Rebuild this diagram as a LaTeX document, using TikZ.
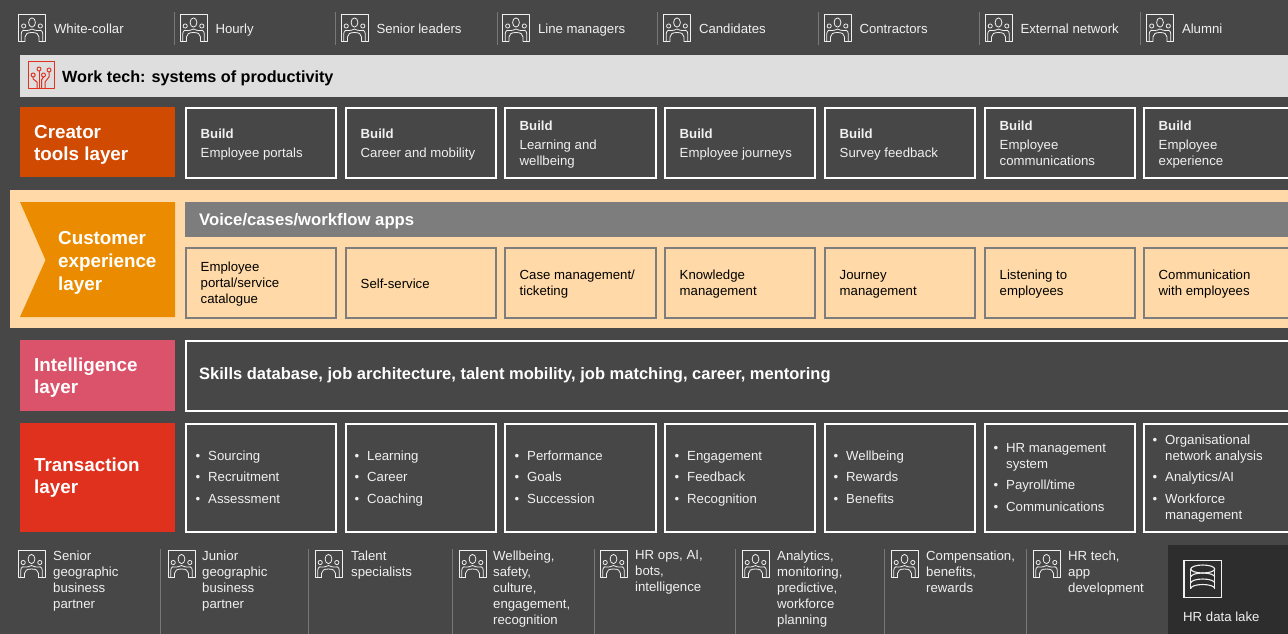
\documentclass[tikz,border=0pt]{standalone}
\usepackage{fontspec}
\setmainfont{Liberation Sans}
\definecolor{bgc}{HTML}{474747}
\definecolor{barg}{HTML}{DEDEDE}
\definecolor{creator}{HTML}{D04A02}
\definecolor{cream}{HTML}{FFDAA8}
\definecolor{amber}{HTML}{EB8C00}
\definecolor{voice}{HTML}{7D7D7D}
\definecolor{intel}{HTML}{DB536A}
\definecolor{trans}{HTML}{E0301E}
\definecolor{lake}{HTML}{2D2D2D}
\definecolor{sepc}{HTML}{787878}
\definecolor{txt}{HTML}{F0F0F0}
\tikzset{
  x=1pt,y=-1pt,
  struts/.style={execute at begin node=\strut,execute at end node=\strut},
  lbl/.style={struts,anchor=west,inner sep=0pt,align=left,text=txt,font=\fontsize{13.2}{16}\selectfont},
  darklbl/.style={lbl,text=black},
  layerlbl/.style={struts,anchor=west,inner sep=0pt,align=left,text=white,font=\fontsize{18.8}{22}\bfseries\selectfont},
  barlbl/.style={struts,anchor=west,inner sep=0pt,text=white,font=\fontsize{#1}{18}\bfseries\selectfont},
  itemlbl/.style={struts,anchor=north west,inner sep=0pt,align=left,text=txt,font=\fontsize{13.2}{16}\selectfont},
  layerbox/.style={anchor=north west,inner sep=0pt,outer sep=0pt,draw=none},
  cell/.style={anchor=north west,inner sep=0pt,outer sep=0pt,draw=white,line width=1.05pt,fill=bgc},
  creamcell/.style={anchor=north west,inner sep=0pt,outer sep=0pt,draw=voice,line width=1.05pt,fill=cream},
  sepline/.style={draw=sepc,line width=1pt},
  iconline/.style={draw=#1,line width=.8pt,line join=round,line cap=round},
}
% people icon, 27 px square
\newcommand{\peopleicon}[2]{%
  \begin{scope}[shift={(#1,#2)},iconline=txt]
    \draw (6.5,27) -- (0,27) -- (0,0) -- (27,0) -- (27,27) -- (20.5,27);
    \draw (13.5,8.5) ellipse (3.4 and 4.6);
    \draw (5.2,12) circle (2.1);
    \draw (21.8,12) circle (2.1);
    \draw (2.7,27) -- (2.7,20) .. controls (2.7,16) and (6,15.5) .. (8.5,16.5) .. controls (10,17.5) and (11,15) .. (13.5,15) .. controls (16,15) and (17,17.5) .. (18.5,16.5) .. controls (21,15.5) and (24.3,16) .. (24.3,20) -- (24.3,27);
    \draw (6.5,27) -- (6.5,23) .. controls (6.5,20) and (9,18.5) .. (13.5,18.5) .. controls (18,18.5) and (20.5,20) .. (20.5,23) -- (20.5,27);
  \end{scope}}
\newcommand{\topitem}[3]{\peopleicon{#1}{14}\node[lbl] (#3) at ({#1+35.3},30.5) {#2};}
\newcommand{\botitem}[4]{\peopleicon{#1}{550.5}\node[itemlbl] (#3) at (#2,550.3) {#4};}
\newcommand{\vsep}[3]{\draw[sepline] (#1,#2) -- (#1,#3);}
\newcommand{\buildcell}[4]{\node[cell,minimum width=#2,minimum height=70] (#3) at (#1,108) {};
  \node[lbl] (#3t) at ({#1+14.5},145.5) {\textbf{Build}\\[3pt]#4};}
\newcommand{\creamitem}[4]{\node[creamcell,minimum width=#2,minimum height=70] (#3) at (#1,248) {};
  \node[darklbl] (#3t) at ({#1+14.5},285.5) {#4};}
\newcommand{\transcell}[3]{\node[cell,minimum width=#2,minimum height=108] (#3) at (#1,424) {};}
\newcommand{\bitem}[4]{\node[itemlbl] (#4) at (#1,{#2-6}) {\llap{•\hspace{8pt}}#3};}
\begin{document}
\begin{tikzpicture}
\useasboundingbox (0,0) rectangle (1288,634);
\clip (0,0) rectangle (1288,634);
\fill[bgc] (0,0) rectangle (1288,634);
% top row
\topitem{18.5}{White-collar}{a1}
\topitem{180}{Hourly}{a2}
\topitem{341}{Senior leaders}{a3}
\topitem{502.5}{Line managers}{a4}
\topitem{663.5}{Candidates}{a5}
\topitem{824}{Contractors}{a6}
\topitem{985}{External network}{a7}
\topitem{1146.5}{Alumni}{a8}
\foreach \x in {174,335,497,657,818,979,1140} {\vsep{\x}{12}{45}}
% work tech bar
\node[layerbox,fill=barg,minimum width=1280,minimum height=42] (wt) at (20,55) {};
\begin{scope}[shift={(28,62)},iconline=trans,line width=1pt]
  \draw (0,0) rectangle (26,26.5);
  \draw (5.2,13) circle (2);
  \draw (11,7) circle (2);
  \draw (21,8) circle (2);
  \draw (15.5,13) circle (2);
  \draw (5.2,15) -- (5.2,17) -- (9,20) -- (9,26.5);
  \draw (11,9) -- (11,26.5);
  \draw (15.5,15) -- (13.5,18) -- (13.5,26.5);
  \draw (21,10) -- (21,15) -- (17,20) -- (17,26.5);
\end{scope}
\node[barlbl=16.2,text=black] (wtt) at (62,78.5) {Work tech: systems of productivity};
% creator
\node[layerbox,fill=creator,minimum width=155,minimum height=70] (cr) at (20,107) {};
\node[layerlbl] (crt) at (34,146.5) {Creator\\tools layer};
\buildcell{186}{150}{b1}{Employee portals}
\buildcell{346}{150}{b2}{Career and mobility}
\buildcell{505}{151}{b3}{Learning and\\wellbeing}
\buildcell{665}{150}{b4}{Employee journeys}
\buildcell{825}{150}{b5}{Survey feedback}
\buildcell{985}{150}{b6}{Employee\\communications}
\buildcell{1144}{160}{b7}{Employee\\experience}
% customer experience band
\node[layerbox,fill=cream,minimum width=1290,minimum height=138] (band) at (10,190) {};
\fill[amber] (20,202) -- (175,202) -- (175,317) -- (20,317) -- (45.5,260) -- cycle;
\node[layerlbl,font=\fontsize{18.8}{23}\bfseries\selectfont] (cxt) at (58,264.5) {Customer\\experience\\layer};
\node[layerbox,fill=voice,minimum width=1110,minimum height=35] (vo) at (185,202) {};
\node[barlbl=16.7] (vot) at (199,222) {Voice/cases/workflow apps};
\creamitem{186}{150}{c1}{Employee\\portal/service\\catalogue}
\creamitem{346}{150}{c2}{Self-service}
\creamitem{505}{151}{c3}{Case management/\\ticketing}
\creamitem{665}{150}{c4}{Knowledge\\management}
\creamitem{825}{150}{c5}{Journey\\management}
\creamitem{985}{150}{c6}{Listening to\\employees}
\creamitem{1144}{160}{c7}{Communication\\with employees}
% intelligence
\node[layerbox,fill=intel,minimum width=155,minimum height=71] (il) at (20,340) {};
\node[layerlbl] (ilt) at (34,378.5) {Intelligence\\layer};
\node[cell,minimum width=1120,minimum height=70] (ib) at (186,341) {};
\node[barlbl=16.5] (ibt) at (199,376) {Skills database, job architecture, talent mobility, job matching, career, mentoring};
% transaction
\node[layerbox,fill=trans,minimum width=155,minimum height=109] (tl) at (20,423) {};
\node[layerlbl] (tlt) at (34,479) {Transaction\\layer};
\transcell{186}{150}{t1}
\transcell{346}{150}{t2}
\transcell{505}{151}{t3}
\transcell{665}{150}{t4}
\transcell{825}{150}{t5}
\transcell{985}{150}{t6}
\transcell{1144}{160}{t7}
\bitem{208}{455}{Sourcing}{t1a}
\bitem{208}{476.5}{Recruitment}{t1b}
\bitem{208}{498}{Assessment}{t1c}
\bitem{367}{455}{Learning}{t2a}
\bitem{367}{476.5}{Career}{t2b}
\bitem{367}{498}{Coaching}{t2c}
\bitem{527}{455}{Performance}{t3a}
\bitem{527}{476.5}{Goals}{t3b}
\bitem{527}{498}{Succession}{t3c}
\bitem{687}{455}{Engagement}{t4a}
\bitem{687}{476.5}{Feedback}{t4b}
\bitem{687}{498}{Recognition}{t4c}
\bitem{846}{455}{Wellbeing}{t5a}
\bitem{846}{476.5}{Rewards}{t5b}
\bitem{846}{498}{Benefits}{t5c}
\bitem{1006}{449}{HR management\\system}{t6a}
\bitem{1006}{484.5}{Payroll/time}{t6b}
\bitem{1006}{506}{Communications}{t6c}
\bitem{1165}{441}{Organisational\\network analysis}{t7a}
\bitem{1165}{476.5}{Analytics/AI}{t7b}
\bitem{1165}{500}{Workforce\\management}{t7c}
% bottom row
\botitem{18}{53}{d1}{Senior\\geographic\\business\\partner}
\botitem{168}{202}{d2}{Junior\\geographic\\business\\partner}
\botitem{315}{351}{d3}{Talent\\specialists}
\botitem{459}{493}{d4}{Wellbeing,\\safety,\\culture,\\engagement,\\recognition}
\botitem{600}{635}{d5}{HR ops, AI,\\bots,\\intelligence}
\botitem{742}{777}{d6}{Analytics,\\monitoring,\\predictive,\\workforce\\planning}
\botitem{891}{926}{d7}{Compensation,\\benefits,\\rewards}
\botitem{1033}{1068}{d8}{HR tech,\\app\\development}
\foreach \x in {160.5,308.5,452,594,735.5,884,1026} {\vsep{\x}{549}{634}}
% data lake
\node[layerbox,fill=lake,minimum width=125,minimum height=90] (dl) at (1168,545) {};
\begin{scope}[shift={(1184,560.5)}]
  \draw[draw=txt,line width=1.3pt] (0,0) rectangle (37.5,37);
  \draw[draw=txt,line width=1.1pt] (18.7,8.5) ellipse (12 and 4);
  \draw[draw=txt,line width=1.1pt] (6.7,8.5) -- (6.7,28);
  \draw[draw=txt,line width=1.1pt] (30.7,8.5) -- (30.7,28);
  \draw[draw=txt,line width=1.1pt] (6.7,16.5) arc[start angle=180,end angle=360,x radius=12,y radius=4];
  \draw[draw=txt,line width=1.1pt] (6.7,22.5) arc[start angle=180,end angle=360,x radius=12,y radius=4];
  \draw[draw=txt,line width=1.1pt] (6.7,28) arc[start angle=180,end angle=360,x radius=12,y radius=4];
\end{scope}
\node[lbl] (dlt) at (1183,618.5) {HR data lake};
\end{tikzpicture}
\end{document}
